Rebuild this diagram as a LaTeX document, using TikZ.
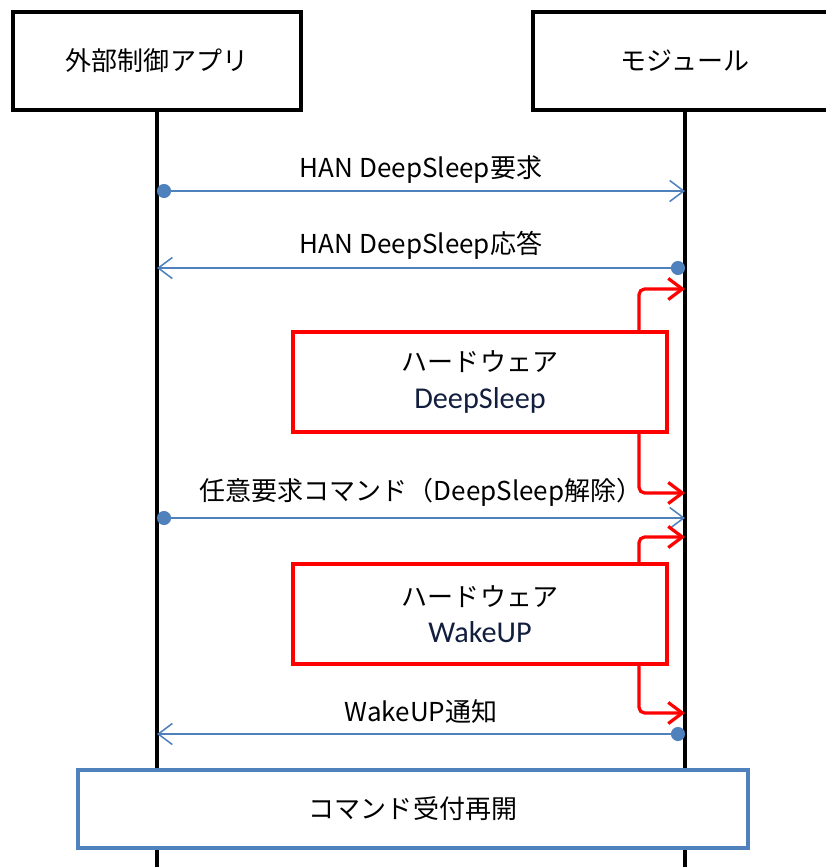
\documentclass[tikz,border=0pt]{standalone}
\usepackage{fontspec}
\usepackage{xcolor}
\usepackage{tikz}
\usetikzlibrary{arrows.meta}
\newfontfamily\jpfont{Noto Sans CJK JP}
\newfontfamily\hwfont{Carlito}
\definecolor{msgblue}{RGB}{79, 129, 189}
\definecolor{hwred}{RGB}{255, 0, 0}
\definecolor{hwtext}{RGB}{18, 30, 62}

\begin{document}
\begin{tikzpicture}[x=0.025cm, y=-0.025cm,
    actor/.style={draw, line width=2.6pt, fill=white, minimum height=2.45cm,
      font=\jpfont\fontsize{18.5}{22}\selectfont},
    life/.style={line width=2.4pt},
    msg/.style={msgblue, line width=1.1pt},
    lbl/.style={midway, yshift=16pt, text=black, font=\jpfont\fontsize{18.5}{22}\selectfont},
    hwbox/.style={draw=hwred, line width=2.3pt, minimum width=9.35cm, minimum height=2.5cm,
      align=center, font=\fontsize{18.5}{26}\selectfont},
    hwarrow/.style={hwred, line width=2.3pt, rounded corners=4pt,
      -{Straight Barb[length=10pt, width=15pt, line width=2.3pt]}}]
    \useasboundingbox (0,0) rectangle (825,867);

    % Lifeline heads
    \node[actor, minimum width=7.2cm] (app) at (157,61) {外部制御アプリ};
    \node[actor, minimum width=7.6cm] (mod) at (685,61) {モジュール};
    \coordinate (appEnd) at (app.south |- 0,867);
    \coordinate (modEnd) at (mod.south |- 0,867);
    \draw[life] (app.south) -- (appEnd);
    \draw[life] (mod.south) -- (modEnd);

    % Message levels on both lifelines
    \foreach \n/\y in {1/191, 2/268, 3/518, 4/734} {
        \coordinate (a\n) at (app.south |- 0,\y);
        \coordinate (m\n) at (mod.south |- 0,\y);
    }

    % Messages
    \draw[msg, {Circle[length=10pt]}-{Straight Barb[length=10pt, width=15pt]}]
        (a1) -- (m1) node[lbl, yshift=-1pt] {HAN DeepSleep要求};
    \draw[msg, {Circle[length=10pt]}-{Straight Barb[length=10pt, width=15pt]}]
        (m2) -- (a2) node[lbl] {HAN DeepSleep応答};
    \draw[msg, {Circle[length=10pt]}-{Straight Barb[length=10pt, width=15pt]}]
        (a3) -- (m3) node[lbl, yshift=2pt] {任意要求コマンド（DeepSleep解除）};
    \draw[msg, {Circle[length=10pt]}-{Straight Barb[length=10pt, width=15pt]}]
        (m4) -- (a4) node[lbl] {WakeUP通知};

    % Hardware states
    \node[hwbox] (hw1) at (480,382) {{\jpfont ハードウェア}\\{\hwfont\fontsize{21.5}{26}\selectfont\color{hwtext} DeepSleep}};
    \node[hwbox] (hw2) at (480,614) {{\jpfont ハードウェア}\\{\hwfont\fontsize{21.5}{26}\selectfont\color{hwtext} WakeUP}};

    % Hardware transitions into the module lifeline
    \coordinate (r1) at (mod.south |- 0,289);
    \coordinate (r2) at (mod.south |- 0,493);
    \coordinate (r3) at (mod.south |- 0,537);
    \coordinate (r4) at (mod.south |- 0,713);
    \draw[hwarrow] (hw1.north -| 639,0) |- (r1);
    \draw[hwarrow] (hw1.south -| 639,0) |- (r2);
    \draw[hwarrow] (hw2.north -| 639,0) |- (r3);
    \draw[hwarrow] (hw2.south -| 639,0) |- (r4);

    % Resume
    \node[draw=msgblue, line width=2.3pt, fill=white, minimum width=16.75cm, minimum height=1.95cm,
        font=\jpfont\fontsize{18.5}{22}\selectfont] (cmd) at (413,809) {コマンド受付再開};
\end{tikzpicture}
\end{document}
